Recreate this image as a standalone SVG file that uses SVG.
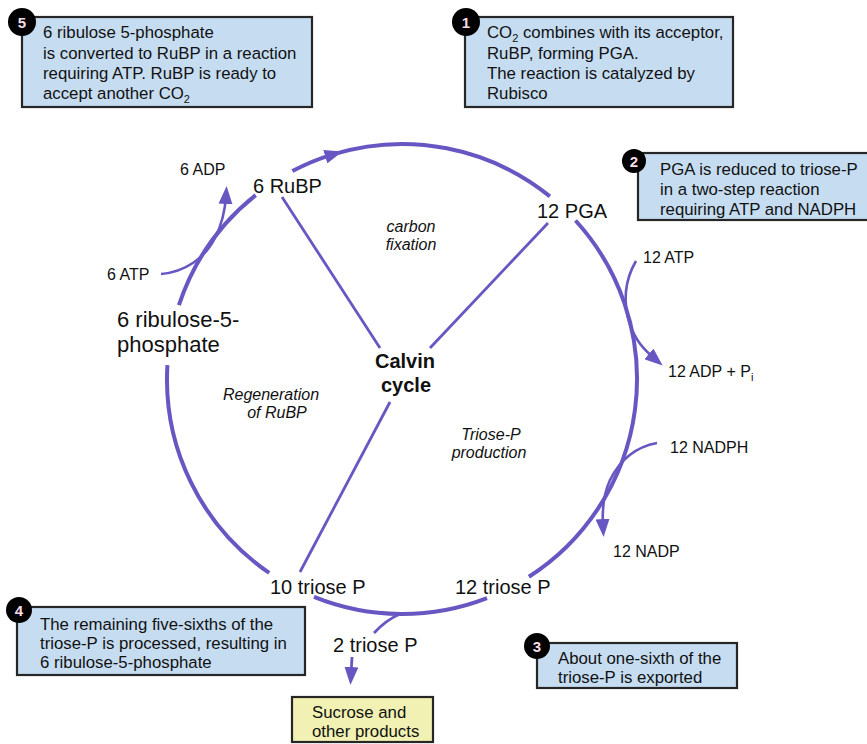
<svg xmlns="http://www.w3.org/2000/svg" width="867" height="744" viewBox="0 0 867 744">
<defs>
<marker id="ah" markerUnits="userSpaceOnUse" markerWidth="18" markerHeight="14" viewBox="0 0 18 14" refX="8" refY="7" orient="auto">
<path d="M0,0 L18,7 L0,14 z" fill="#6857c2"/>
</marker>
</defs>
<style>
text{font-family:"Liberation Sans","Open Sans","Noto Sans",sans-serif;fill:#111;}
.box{fill:#c6ddf1;stroke:#262626;stroke-width:2.2;}
.ybox{fill:#f0f1b2;stroke:#262626;stroke-width:2.2;}
.bt{font-size:16.8px;}
.lbl{font-size:16px;}
.mid{font-size:20px;}
.big{font-size:22px;}
.it{font-size:16px;font-style:italic;text-anchor:middle;}
.cal{font-size:20px;font-weight:bold;text-anchor:middle;}
.num{fill:#000;}
.numt{font-size:15px;font-weight:bold;fill:#f6dbe6;text-anchor:middle;}
.cyc{fill:none;stroke:#6857c2;stroke-width:4;}
.spk{fill:none;stroke:#6857c2;stroke-width:2.8;}
.cur{fill:none;stroke:#6857c2;stroke-width:2.6;}
</style>

<g id="connectors">
<path class="cyc" d="M292.4,171.1 A235,235 0 0 1 332.9,154.4" marker-end="url(#ah)"/>
<path class="cyc" d="M332.9,154.4 A235,235 0 0 1 549.9,196.4"/>
<path class="cyc" d="M575.5,220.5 A235,235 0 0 1 528.9,576.8"/>
<path class="cyc" d="M487.0,598.1 A235,235 0 0 1 314.0,596.9"/>
<path class="cyc" d="M269.2,572.9 A235,235 0 0 1 167.4,365.1"/>
<path class="cyc" d="M178.9,305.2 A235,235 0 0 1 255.7,195.1"/>
<path class="spk" d="M400,614 Q386,620 374,633"/>
<path class="spk" d="M352,657 L351,675" marker-end="url(#ah)"/>
<path class="spk" d="M282,197 L380,348"/>
<path class="spk" d="M548,223 L430,348"/>
<path class="spk" d="M390,402 L300,572"/>
<path class="cur" d="M161,274 C185,272 205,258 215,238 C222,224 225,212 226,196" marker-end="url(#ah)"/>
<path class="cur" d="M636,261 C626,278 622,300 630,325 C636,340 642,348 655,359" marker-end="url(#ah)"/>
<path class="cur" d="M657,443 C635,447 620,460 610,480 C603,495 602,510 603,527" marker-end="url(#ah)"/>
</g>

<g id="box5">
<rect class="box" x="22" y="17" width="290" height="90"/>
<circle class="num" cx="22" cy="22" r="14"/>
<text class="numt" x="22" y="27.5">5</text>
<text class="bt" x="43" y="38">6 ribulose 5-phosphate</text>
<text class="bt" x="43" y="58.5">is converted to RuBP in a reaction</text>
<text class="bt" x="43" y="79">requiring ATP. RuBP is ready to</text>
<text class="bt" x="43" y="99">accept another CO<tspan font-size="11" dy="4">2</tspan></text>
</g>

<g id="box1">
<rect class="box" x="465" y="17" width="268" height="90"/>
<circle class="num" cx="466" cy="22" r="14"/>
<text class="numt" x="466" y="27.5">1</text>
<text class="bt" x="487" y="38">CO<tspan font-size="11" dy="4">2</tspan><tspan dy="-4"> combines with its acceptor,</tspan></text>
<text class="bt" x="487" y="58.5">RuBP, forming PGA.</text>
<text class="bt" x="487" y="79">The reaction is catalyzed by</text>
<text class="bt" x="487" y="99">Rubisco</text>
</g>

<g id="box2">
<rect class="box" x="638" y="153" width="240" height="67"/>
<circle class="num" cx="634" cy="161" r="12"/>
<text class="numt" x="634" y="166.5" font-size="14">2</text>
<text class="bt" x="660" y="175">PGA is reduced to triose-P</text>
<text class="bt" x="660" y="195">in a two-step reaction</text>
<text class="bt" x="660" y="214.5">requiring ATP and NADPH</text>
</g>

<g id="box4">
<rect class="box" x="17" y="607" width="288" height="68"/>
<circle class="num" cx="19" cy="610" r="13"/>
<text class="numt" x="19" y="615.5">4</text>
<text class="bt" x="40" y="630">The remaining five-sixths of the</text>
<text class="bt" x="40" y="649">triose-P is processed, resulting in</text>
<text class="bt" x="40" y="668">6 ribulose-5-phosphate</text>
</g>

<g id="box3">
<rect class="box" x="537" y="643" width="200" height="45"/>
<circle class="num" cx="537" cy="646" r="13"/>
<text class="numt" x="537" y="651.5">3</text>
<text class="bt" x="558" y="664">About one-sixth of the</text>
<text class="bt" x="558" y="683">triose-P is exported</text>
</g>

<g id="sucrose">
<rect class="ybox" x="292" y="697" width="141" height="45"/>
<text class="bt" x="312" y="718">Sucrose and</text>
<text class="bt" x="312" y="737">other products</text>
</g>

<g id="rubp"><text class="mid" x="253" y="193">6 RuBP</text></g>
<g id="pga"><text class="mid" x="537" y="218">12 PGA</text></g>
<g id="ribulose"><text class="big" x="117" y="327">6 ribulose-5-</text><text class="big" x="117" y="352">phosphate</text></g>
<g id="triose10"><text class="mid" x="270" y="594">10 triose P</text></g>
<g id="triose12"><text class="mid" x="455" y="594">12 triose P</text></g>
<g id="triose2"><text class="mid" x="333" y="652">2 triose P</text></g>
<g id="calvin"><text class="cal" x="405" y="368">Calvin</text><text class="cal" x="406" y="392">cycle</text></g>
<g id="phase-labels">
<text class="it" x="411" y="232">carbon</text>
<text class="it" x="411" y="250">fixation</text>
<text class="it" x="271" y="400">Regeneration</text>
<text class="it" x="277" y="418">of RuBP</text>
<text class="it" x="491" y="440">Triose-P</text>
<text class="it" x="489" y="458">production</text>
</g>
<g id="cofactors">
<text class="lbl" x="180" y="175">6 ADP</text>
<text class="lbl" x="107" y="280">6 ATP</text>
<text class="lbl" x="643" y="263">12 ATP</text>
<text class="lbl" x="668" y="377">12 ADP + P<tspan font-size="11" dy="4">i</tspan></text>
<text class="lbl" x="670" y="453">12 NADPH</text>
<text class="lbl" x="613" y="557">12 NADP</text>
</g>
</svg>
